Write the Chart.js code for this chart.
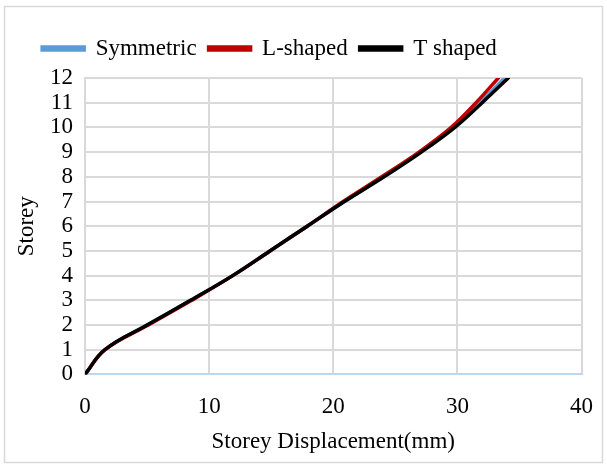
<!DOCTYPE html>
<html>
<head>
<meta charset="utf-8">
<script src="https://cdn.jsdelivr.net/npm/chart.js@4/dist/chart.umd.min.js"></script>
<style>
  html, body { margin: 0; padding: 0; background: #fff; }
  #wrap { width: 607px; height: 468px; }
</style>
</head>
<body>
<div id="wrap"><canvas id="myChart"></canvas></div>
<script>
const storeys = [0, 1, 2, 3, 4, 5, 6, 7, 8, 9, 10, 11, 12];
const symmetric = [0, 1.6, 5.0, 8.5, 11.9, 14.9, 17.9, 20.9, 24.0, 27.0, 29.6, 31.8, 33.8];
const lShaped = [0, 1.6, 5.1, 8.6, 11.9, 14.9, 17.9, 20.8, 23.9, 26.9, 29.5, 31.5, 33.3];
const tShaped = [0, 1.6, 5.0, 8.5, 11.9, 14.9, 17.9, 20.9, 24.1, 27.1, 29.8, 32.0, 34.1];
const xTicks = [0, 10, 20, 30, 40];

const toPoints = values => values.map((v, i) => ({ x: v, y: storeys[i] }));
const serif = 'Liberation Serif, Times New Roman, serif';
const fontSize = 23;

// white background plus the thin grey frame round the chart
const frame = {
  id: 'frame',
  beforeDraw(chart) {
    const c = chart.ctx;
    c.save();
    c.fillStyle = '#fff';
    c.fillRect(0, 0, chart.width, chart.height);
    c.strokeStyle = '#d9d9d9';
    c.lineWidth = 1.5;
    c.strokeRect(4.5, 6.5, 598, 456);
    c.restore();
  }
};

// legend sits a bit left of centre and higher above the plot
const legendShift = {
  id: 'legendShift',
  afterLayout(chart) {
    const lg = chart.legend;
    lg.left -= 34;
    lg.right -= 34;
    lg.top -= 8;
    lg.bottom -= 8;
  }
};

const ctx = document.getElementById('myChart').getContext('2d');
const chart = new Chart(ctx, {
  type: 'line',
  data: {
    datasets: [
      { label: 'Symmetric', data: toPoints(symmetric), borderColor: '#5b9bd5', backgroundColor: '#5b9bd5', order: 3 },
      { label: 'L-shaped', data: toPoints(lShaped), borderColor: '#c00000', backgroundColor: '#c00000', order: 2 },
      { label: 'T shaped', data: toPoints(tShaped), borderColor: '#000000', backgroundColor: '#000000', order: 1 }
    ]
  },
  options: {
    responsive: true,
    maintainAspectRatio: false,
    animation: false,
    devicePixelRatio: 1,
    elements: {
      line: { borderWidth: 3.5, tension: 0.4, borderCapStyle: 'round' },
      point: { radius: 0 }
    },
    layout: { padding: { top: 33, left: 10, right: 10, bottom: 16 } },
    plugins: {
      tooltip: { enabled: false },
      legend: {
        position: 'top',
        labels: {
          font: { family: serif, size: fontSize },
          color: '#000',
          boxWidth: 42,
          boxHeight: 3,
          padding: 12,
          sort: (a, b) => a.datasetIndex - b.datasetIndex
        }
      }
    },
    scales: {
      x: {
        type: 'linear',
        min: 0,
        max: 40,
        afterBuildTicks: axis => { axis.ticks = xTicks.map(v => ({ value: v })); },
        grid: { color: '#d9d9d9', lineWidth: 2, drawTicks: false },
        border: { color: '#bdd7ee', width: 2 },
        ticks: { font: { family: serif, size: fontSize, lineHeight: 1.65 }, color: '#000', padding: 14 },
        title: { display: true, text: 'Storey Displacement(mm)', font: { family: serif, size: fontSize }, color: '#000', padding: { top: -12, bottom: -4 } }
      },
      y: {
        type: 'linear',
        min: 0,
        max: 12,
        ticks: { stepSize: 1, autoSkip: false, font: { family: serif, size: fontSize }, color: '#000', padding: 12 },
        grid: { color: '#d9d9d9', lineWidth: 2, drawTicks: false },
        border: { color: '#d9d9d9', width: 2 },
        title: { display: true, text: 'Storey', font: { family: serif, size: fontSize, lineHeight: 1 }, color: '#000', padding: { top: 5, bottom: 0 } }
      }
    }
  },
  plugins: [frame, legendShift]
});
</script>
</body>
</html>
